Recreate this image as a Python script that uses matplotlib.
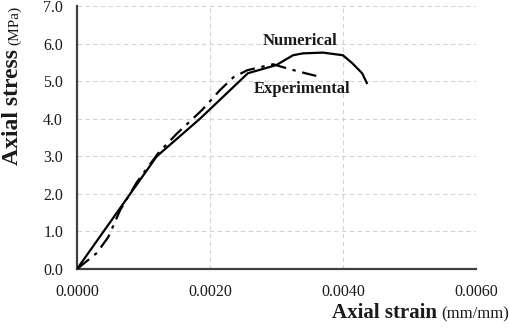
import matplotlib
matplotlib.use("Agg")
import matplotlib.pyplot as plt

# values
num_strain = [0, 0.0012, 0.00185, 0.00257, 0.0030, 0.00325, 0.0034, 0.0037,
              0.0040, 0.00414, 0.00429, 0.00436]
num_stress = [0, 3.0, 4.0, 5.21, 5.43, 5.69, 5.74, 5.76, 5.69, 5.48, 5.21, 4.95]

exp_strain = [0, 0.0003, 0.00047, 0.00065, 0.0009, 0.00122, 0.0015, 0.00188,
              0.00215, 0.00235, 0.00256, 0.0027, 0.00295, 0.0032, 0.00346, 0.0036]
exp_stress = [0, 0.43, 0.85, 1.57, 2.31, 3.08, 3.6, 4.23, 4.76, 5.1, 5.29,
              5.35, 5.45, 5.32, 5.2, 5.14]

x_ticks = [0, 0.002, 0.004, 0.006]
y_ticks = [0, 1, 2, 3, 4, 5, 6, 7]

plt.rcParams.update({"font.family": "Liberation Serif"})
TXT = "#1a1a1a"

fig = plt.figure(figsize=(5.1, 3.35), dpi=100)
ax = fig.add_axes([0.151, 0.197, 0.782, 0.785])

ax.plot(num_strain, num_stress, color="black", lw=1.6, zorder=3)
ax.plot(exp_strain, exp_stress, color="black", lw=1.6,
        linestyle=(0, (7, 3, 1.5, 3)), zorder=3)

ax.set_xlim(0, 0.006)
ax.set_ylim(0, 7)
ax.set_xticks(x_ticks)
ax.set_xticklabels([f"{v:.4f}" for v in x_ticks])
ax.set_yticks(y_ticks)
ax.set_yticklabels([f"{v:.1f}" for v in y_ticks])
ax.tick_params(length=0, labelsize=11.5, labelcolor=TXT)
ax.tick_params(axis="x", pad=11)
ax.tick_params(axis="y", pad=10)
ax.grid(True, color="#d4d4d4", linestyle=(0, (4, 3)), linewidth=0.8, zorder=0)
for s in ("top", "right"):
    ax.spines[s].set_visible(False)
for s in ("left", "bottom"):
    ax.spines[s].set_color("#404040")
    ax.spines[s].set_linewidth(1.6)

ax.text(0.00335, 6.07, "Numerical", fontsize=12, fontweight="bold",
        ha="center", va="center", color=TXT)
ax.text(0.00338, 4.8, "Experimental", fontsize=12, fontweight="bold",
        ha="center", va="center", color=TXT)

# axis titles: bold name followed by a regular unit
W, H = fig.bbox.width, fig.bbox.height
rend = fig.canvas.get_renderer()

fig.text(0.857, 0.05, "Axial strain", fontsize=15, fontweight="bold",
         ha="right", va="baseline", color=TXT)
fig.text(0.857 + 4 / W, 0.05, "(mm/mm)", fontsize=12, ha="left",
         va="baseline", color=TXT)

yl = fig.text(0.025, 0.507, "Axial stress", fontsize=17, fontweight="bold",
              rotation=90, ha="center", va="bottom", color=TXT)
top = yl.get_window_extent(rend).y1
fig.text(0.029, (top + 4) / H, "(MPa)", fontsize=11, rotation=90,
         ha="center", va="bottom", color=TXT)

fig.savefig("out.png", dpi=100)
